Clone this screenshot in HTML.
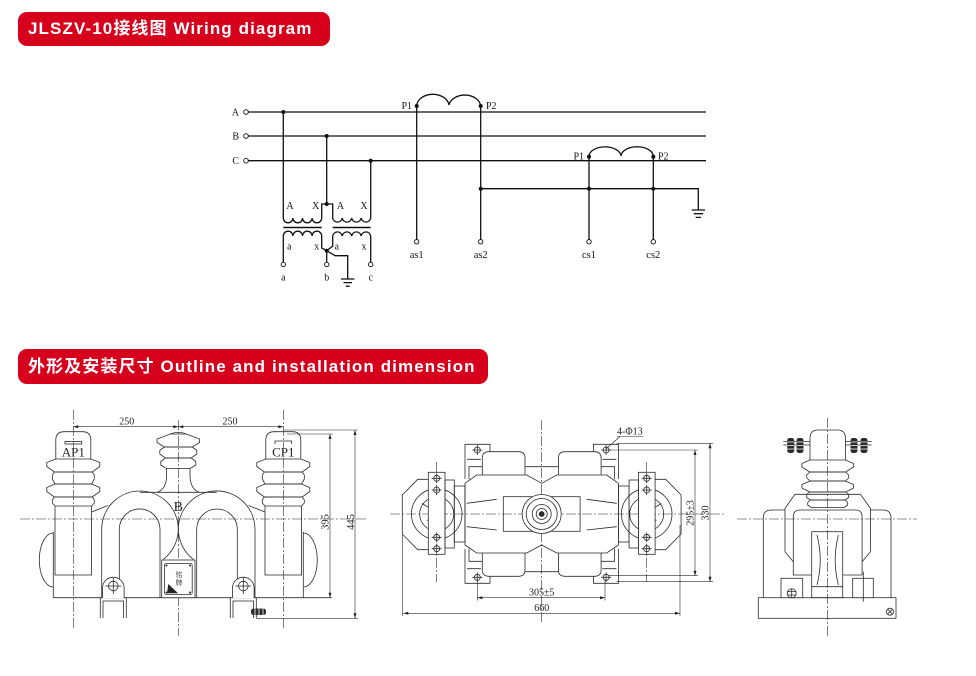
<!DOCTYPE html>
<html><head><meta charset="utf-8"><style>
html,body{margin:0;padding:0;background:#fff;}
body{width:976px;height:676px;position:relative;overflow:hidden;}
.hdr{position:absolute;left:18px;background:#d6001c;color:#fff;font-family:"Liberation Sans","Noto Sans CJK SC",sans-serif;font-weight:bold;font-size:17px;letter-spacing:1.1px;border-radius:9px;box-sizing:border-box;padding-left:10px;white-space:nowrap;}
#h1{top:12px;width:312px;height:34px;line-height:34px;}
#h2{top:349px;width:470px;height:35px;line-height:35px;}
svg{position:absolute;left:0;top:0;}
.w text{font-family:"Liberation Serif",serif;font-size:10px;fill:#111;stroke:none;}
.d text{font-family:"Liberation Serif","Noto Serif CJK SC",serif;font-size:10px;fill:#222;stroke:none;}
</style></head><body>
<div class="hdr" id="h1">JLSZV-10接线图 Wiring diagram</div>
<div class="hdr" id="h2">外形及安装尺寸 Outline and installation dimension</div>
<svg width="976" height="676" viewBox="0 0 976 676">
<defs>
<marker id="ar" viewBox="0 0 10 10" refX="10" refY="5" markerUnits="userSpaceOnUse" markerWidth="6" markerHeight="5" orient="auto-start-reverse"><path d="M0,2L10,5L0,8z" fill="#222"/></marker>
<g id="insL">
<path d="M-17.5,459V440Q-17.5,431.7 -9,431.7H9Q17.5,431.7 17.5,440V459"/>
<polygon points="-17.5,459 17.5,459 26.5,462.5 26.5,466.5 19,472 -19,472 -26.5,466.5 -26.5,462.5"/>
<polygon points="-19,472 19,472 21,475 21,479 18.3,484 -18.3,484 -21,479 -21,475"/>
<polygon points="-18.3,484 18.3,484 26.5,487.5 26.5,491.5 19,497 -19,497 -26.5,491.5 -26.5,487.5"/>
<polygon points="-19,497 19,497 21,500 21,503 18.3,506 -18.3,506 -21,503 -21,500"/>
<path d="M-18.3,506V575H18.3V506"/>
</g>
<g id="hole"><circle cx="0" cy="0" r="3"/><path d="M-5,0H5M0,-5V5"/></g>
<g id="bolt"><rect x="-3.5" y="-7.5" width="7" height="15" rx="2.5" fill="#2a2a2a" stroke="none"/><path d="M-3.5,-3.5H3.5M-3.5,0H3.5M-3.5,3.5H3.5" stroke="#fff" stroke-width="0.8"/></g>
</defs>

<!-- ===== WIRING DIAGRAM ===== -->
<g class="w" stroke="#111" stroke-width="1.3" fill="none">
<path d="M248.5,112H706M248.5,136H706M248.5,160.7H706"/>
<g stroke-width="0.9" fill="#fff"><circle cx="246" cy="112" r="2.3"/><circle cx="246" cy="136" r="2.3"/><circle cx="246" cy="160.7" r="2.3"/></g>
<text x="239" y="115.5" text-anchor="end">A</text>
<text x="239" y="139.5" text-anchor="end">B</text>
<text x="239" y="164" text-anchor="end">C</text>
<!-- PT primaries -->
<path d="M283.3,112V218a4.8,4.8 0 0 0 9.6,0a4.8,4.8 0 0 0 9.6,0a4.8,4.8 0 0 0 9.6,0a4.8,4.8 0 0 0 9.6,0V204H332.7V218a4.8,4.8 0 0 0 9.5,0a4.8,4.8 0 0 0 9.5,0a4.8,4.8 0 0 0 9.5,0a4.8,4.8 0 0 0 9.5,0V160.7"/>
<path d="M326.7,136V204"/>
<path d="M283.3,227.5H321.7M332.7,227.5H370.7" stroke-width="1.6"/>
<!-- secondaries -->
<path d="M283.3,262V236a4.8,4.8 0 0 1 9.6,0a4.8,4.8 0 0 1 9.6,0a4.8,4.8 0 0 1 9.6,0a4.8,4.8 0 0 1 9.6,0V248L326.7,250.7"/>
<path d="M326.7,250.7L332.7,246V236a4.8,4.8 0 0 1 9.5,0a4.8,4.8 0 0 1 9.5,0a4.8,4.8 0 0 1 9.5,0a4.8,4.8 0 0 1 9.5,0V262"/>
<path d="M326.7,250.7V262M326.7,250.7L335,255.7H347.7V279"/>
<path d="M341,279H354.4M343.5,282.6H352M345.8,286.2H349.6"/>
<g fill="#111" stroke="none"><circle cx="283.3" cy="112" r="2"/><circle cx="326.7" cy="136" r="2"/><circle cx="370.7" cy="160.7" r="2"/><circle cx="326.7" cy="204" r="2"/><circle cx="326.7" cy="250.7" r="2"/></g>
<g stroke-width="0.9" fill="#fff"><circle cx="283.3" cy="264.5" r="2.2"/><circle cx="326.7" cy="264.5" r="2.2"/><circle cx="370.7" cy="264.5" r="2.2"/></g>
<text x="290" y="209" text-anchor="middle">A</text>
<text x="315.7" y="209" text-anchor="middle">X</text>
<text x="340.5" y="209" text-anchor="middle">A</text>
<text x="364" y="209" text-anchor="middle">X</text>
<text x="289.3" y="249.5" text-anchor="middle">a</text>
<text x="316.7" y="249.5" text-anchor="middle">x</text>
<text x="336.7" y="249.5" text-anchor="middle">a</text>
<text x="364" y="249.5" text-anchor="middle">x</text>
<text x="283.3" y="280.5" text-anchor="middle">a</text>
<text x="326.7" y="280.5" text-anchor="middle">b</text>
<text x="370.7" y="280.5" text-anchor="middle">c</text>
<!-- CTs -->
<path d="M416.7,106A16.2,12 0 0 1 449,105A16,12 0 0 1 480.7,106"/>
<path d="M589,156.7A16,9.5 0 0 1 621,156A16,9.5 0 0 1 653.3,156.7"/>
<path d="M416.7,106V239.4M480.7,106V239.4M589,156.7V239.4M653.3,156.7V239.4"/>
<path d="M480.7,188.7H698.3V210M691.7,210H705M693.7,213.7H703M695.7,217.4H701"/>
<g fill="#111" stroke="none"><circle cx="416.7" cy="106" r="2"/><circle cx="480.7" cy="106" r="2"/><circle cx="589" cy="156.7" r="2"/><circle cx="653.3" cy="156.7" r="2"/><circle cx="480.7" cy="188.7" r="2"/><circle cx="589" cy="188.7" r="2"/><circle cx="653.3" cy="188.7" r="2"/></g>
<g stroke-width="0.9" fill="#fff"><circle cx="416.7" cy="241.7" r="2.2"/><circle cx="480.7" cy="241.7" r="2.2"/><circle cx="589" cy="241.7" r="2.2"/><circle cx="653.3" cy="241.7" r="2.2"/></g>
<text x="412" y="109" text-anchor="end">P1</text>
<text x="486" y="109">P2</text>
<text x="584" y="159.5" text-anchor="end">P1</text>
<text x="658" y="159.5">P2</text>
<text x="416.7" y="258" text-anchor="middle" style="font-size:10.5px">as1</text>
<text x="480.7" y="258" text-anchor="middle" style="font-size:10.5px">as2</text>
<text x="589" y="258" text-anchor="middle" style="font-size:10.5px">cs1</text>
<text x="653.3" y="258" text-anchor="middle" style="font-size:10.5px">cs2</text>
</g>

<!-- ===== LEFT FRONT VIEW ===== -->
<g class="d" stroke="#2a2a2a" stroke-width="0.8" fill="none">
<g stroke-width="0.6" stroke-dasharray="10 2 2 2">
<path d="M20,519H368M73.3,410V630M178.3,420V636M283.3,410V630"/>
</g>
<use href="#insL" transform="translate(73.3,0)"/>
<use href="#insL" transform="translate(283.3,0)"/>
<rect x="65" y="441.5" width="16.7" height="2.5"/>
<path d="M275,444V441H291.6V444"/>
<text x="73.3" y="456.5" text-anchor="middle" style="font-size:13px">AP1</text>
<text x="283.3" y="456.5" text-anchor="middle" style="font-size:13px">CP1</text>
<!-- B insulator -->
<g transform="translate(178.3,0)">
<path d="M-8,434Q0,430.5 8,434"/>
<polygon points="-8,434 8,434 21.3,439 21.3,442.5 14,447 -14,447 -21.3,442.5 -21.3,439"/>
<polygon points="-14,447 14,447 18.5,450.5 18.5,454 13,458 -13,458 -18.5,454 -18.5,450.5"/>
<polygon points="-13,458 13,458 17.5,461.5 17.5,465 12,468.5 -12,468.5 -17.5,465 -17.5,461.5"/>
<path d="M-11.7,468.5V476Q-12,489 -21,492.3M11.7,468.5V476Q12,489 21,492.3"/>
</g>
<path d="M140,492.3H216.7"/>
<text x="178.3" y="511" text-anchor="middle" style="font-size:14px">B</text>
<!-- U cores -->
<path d="M101.7,598V529.3A38.3,38.3 0 0 1 178.3,529.3A38.3,38.3 0 0 1 163.3,559.3"/>
<path d="M119.3,598V529.3A20.3,20.3 0 0 1 160,529.3V598"/>
<path d="M255,598V529.3A38.3,38.3 0 0 0 178.3,529.3A38.3,38.3 0 0 0 193.3,559.3"/>
<path d="M196.7,598V529.3A20.3,20.3 0 0 1 237.3,529.3V598"/>
<path d="M91.6,512L108,505.5M265,512L248.6,505.5"/>
<!-- sides -->
<path d="M53.3,531.7V597.7M53.3,533A14,27 0 0 0 53.3,587"/>
<path d="M303.3,531.7V597.7M303.3,533A14,27 0 0 1 303.3,587"/>
<path d="M53.3,597.7H331.7"/>
<!-- nameplate -->
<rect x="161.7" y="560" width="33.3" height="37.7" fill="#fff"/>
<rect x="164.5" y="563.5" width="27.7" height="31" rx="2"/>
<g fill="#222" stroke="none"><circle cx="166.5" cy="565.5" r="1"/><circle cx="190" cy="565.5" r="1"/><circle cx="166.5" cy="592.5" r="1"/><circle cx="190" cy="592.5" r="1"/><path d="M168.3,584L178,593.3H167z"/></g>
<text x="179" y="577" text-anchor="middle" style="font-size:7px">铭</text>
<text x="179" y="585" text-anchor="middle" style="font-size:7px">牌</text>
<!-- ears & feet -->
<g fill="#fff">
<path d="M102.5,598V588A10.8,10.8 0 0 1 124.1,588V598"/>
<path d="M232.5,598V588A10.8,10.8 0 0 1 254.1,588V598"/>
</g>
<use href="#hole" transform="translate(113.3,586) scale(1.6)" stroke-width="0.5"/>
<use href="#hole" transform="translate(243.3,586) scale(1.6)" stroke-width="0.5"/>
<path d="M100.3,618V598M103,618V601H123.5V618M126.3,598V618"/>
<path d="M230.3,618V598M233,618V601H253.5V618M256.3,598V618"/>
<rect x="251" y="608.5" width="15" height="6.5" rx="2.5" fill="#2a2a2a" stroke="none"/>
<path d="M255,608.5V615M259,608.5V615M263,608.5V615" stroke="#fff"/>
<!-- dims -->
<g stroke-width="0.6">
<path d="M73.3,426.7H178.3" marker-start="url(#ar)" marker-end="url(#ar)"/>
<path d="M178.3,426.7H283.3" marker-start="url(#ar)" marker-end="url(#ar)"/>
<path d="M287,434H333M283.3,430H358M256.3,618.3H358"/>
<path d="M330,434V597.7" marker-start="url(#ar)" marker-end="url(#ar)"/>
<path d="M355,430V618.3" marker-start="url(#ar)" marker-end="url(#ar)"/>
</g>
<text x="126.7" y="424.5" text-anchor="middle">250</text>
<text x="230" y="424.5" text-anchor="middle">250</text>
<text transform="translate(328.7,522) rotate(-90)" text-anchor="middle" style="font-size:10.5px">395</text>
<text transform="translate(354,522) rotate(-90)" text-anchor="middle" style="font-size:10.5px">445</text>
</g>

<!-- ===== MIDDLE TOP VIEW ===== -->
<g class="d" stroke="#2a2a2a" stroke-width="0.8" fill="none">
<g stroke-width="0.6" stroke-dasharray="10 2 2 2">
<path d="M390,514H724M541.7,420V624M436.7,462V582M646.7,462V582"/>
</g>
<g id="halfM">
<path d="M428.3,479.3H417.7L402.3,495V534L417.7,549.7H428.3"/>
<circle cx="436.7" cy="514" r="25.3"/>
<circle cx="436.7" cy="514" r="17"/>
<path d="M422,503.5L433,510M427,520.5L436.7,515M438.5,519.5L442,526M440,503L443,509M431,525L434,529"/>
<rect x="428.3" y="472.3" width="16.7" height="82" fill="#fff"/>
<use href="#hole" transform="translate(436.7,478.3)"/>
<use href="#hole" transform="translate(436.7,490)"/>
<use href="#hole" transform="translate(436.7,537.3)"/>
<use href="#hole" transform="translate(436.7,548.7)"/>
<rect x="445" y="480" width="9.3" height="68"/>
<rect x="454.3" y="486" width="10.7" height="56"/>
<path d="M541.7,483.3L526.7,475H476.7L465,483.3V545L476.7,553H526.7L541.7,545"/>
<path d="M482.3,475V458Q482.3,451.7 489,451.7H518.3Q525,451.7 525,458V475"/>
<path d="M482.3,553V570Q482.3,576.3 489,576.3H518.3Q525,576.3 525,570V553"/>
<path d="M525,466.7H541.7M525,571.7H541.7"/>
<path d="M465,479V444.3H490V451.7M467,459.3H481M469,479.3V466.7H482.3"/>
<path d="M465,549V583.3H490V576.3M467,568.7H481M469,548.7V561.3H482.3"/>
<use href="#hole" transform="translate(477.3,450)"/>
<use href="#hole" transform="translate(477.3,577.3)"/>
<path d="M466.7,503.3L496.7,499.3M466.7,526.7L496.7,530"/>
</g>
<use href="#halfM" transform="matrix(-1,0,0,1,1083.4,0)"/>
<rect x="503.3" y="496.7" width="76.8" height="34.6"/>
<circle cx="541.7" cy="514" r="19.5" fill="#fff"/>
<circle cx="541.7" cy="514" r="15.5"/>
<circle cx="541.7" cy="514" r="9.5"/>
<circle cx="541.7" cy="514" r="5.5"/>
<circle cx="541.7" cy="514" r="2.5" fill="#2a2a2a"/>
<!-- dims -->
<g stroke-width="0.6">
<path d="M402.3,535V616M680,525V616M477.3,580V600.5M605,580V600.5"/>
<path d="M403.3,613.3H680" marker-start="url(#ar)" marker-end="url(#ar)"/>
<path d="M477.3,597.7H605" marker-start="url(#ar)" marker-end="url(#ar)"/>
<path d="M608,450H698M608,575.7H698M616.7,443.3H713M616.7,581.7H713"/>
<path d="M695,450V575.7" marker-start="url(#ar)" marker-end="url(#ar)"/>
<path d="M710,443.3V581.7" marker-start="url(#ar)" marker-end="url(#ar)"/>
<path d="M617,436.5H643M620,436.5L606,449"/>
</g>
<text x="541.7" y="611" text-anchor="middle">660</text>
<text x="541.7" y="595.5" text-anchor="middle">305±5</text>
<text transform="translate(693.7,513) rotate(-90)" text-anchor="middle">295±3</text>
<text transform="translate(708.7,513) rotate(-90)" text-anchor="middle">330</text>
<text x="617" y="434.5">4-Φ13</text>
</g>

<!-- ===== RIGHT SIDE VIEW ===== -->
<g class="d" stroke="#2a2a2a" stroke-width="0.8" fill="none">
<g stroke-width="0.6" stroke-dasharray="10 2 2 2">
<path d="M737,519H917M827.7,418V636"/>
</g>
<rect x="758.3" y="597.7" width="137.7" height="20.6"/>
<path d="M763.3,597.7V518Q763.3,510 771.3,510H785M870.4,510H883Q891,510 891,518V597.7"/>
<path d="M785,551.7V508.3L795,494.3H860.4L870.4,508.3V551.7"/>
<path d="M785,551.7L793.3,561.7M870.4,551.7L862.1,561.7"/>
<path d="M793.3,575V517Q793.3,510 800,510H855.4Q862.1,510 862.1,517V575M793.3,575H811.7M842.7,575H862.1"/>
<rect x="811.7" y="531.7" width="31" height="66"/>
<path d="M817,535Q823.5,560 817,585M838.4,535Q831.9,560 838.4,585M811.7,586.7H842.7"/>
<rect x="781" y="578.3" width="21.7" height="19.4" fill="#fff"/>
<rect x="852.7" y="578.3" width="20.6" height="19.4" fill="#fff"/>
<path d="M863.3,571.7V601.7"/>
<circle cx="791.7" cy="593.3" r="4.5" fill="#fff"/>
<path d="M787.2,591.5H796.2M787.2,595H796.2M791.7,588.8V597.8"/>
<circle cx="890" cy="611.7" r="3.5"/>
<path d="M887.5,609.2L892.5,614.2M892.5,609.2L887.5,614.2"/>
<g transform="translate(827.7,0)">
<path d="M-17.7,460V438Q-17.7,430 -9.7,430H9.7Q17.7,430 17.7,438V460"/>
<polygon points="-17.7,460 17.7,460 25.8,463.5 25.8,467 18,472 -18,472 -25.8,467 -25.8,463.5"/>
<polygon points="-18,472 18,472 21,475 21,478 17.5,481 -17.5,481 -21,478 -21,475"/>
<polygon points="-17.5,481 17.5,481 25.8,484.5 25.8,488 18,492 -18,492 -25.8,488 -25.8,484.5"/>
<polygon points="-18,492 18,492 21,494.5 21,497.5 17.5,500 -17.5,500 -21,497.5 -21,494.5"/>
<polygon points="-17.5,500 17.5,500 20,502.5 20,505 16.5,507.5 -16.5,507.5 -20,505 -20,502.5"/>
</g>
<path d="M783.3,441.5H810M845.4,441.5H871.7M783.3,445H810M845.4,445H871.7"/>
<use href="#bolt" transform="translate(790.7,445.5)"/>
<use href="#bolt" transform="translate(800,445.5)"/>
<use href="#bolt" transform="translate(854,445.5)"/>
<use href="#bolt" transform="translate(864,445.5)"/>
</g>
</svg>
</body></html>
